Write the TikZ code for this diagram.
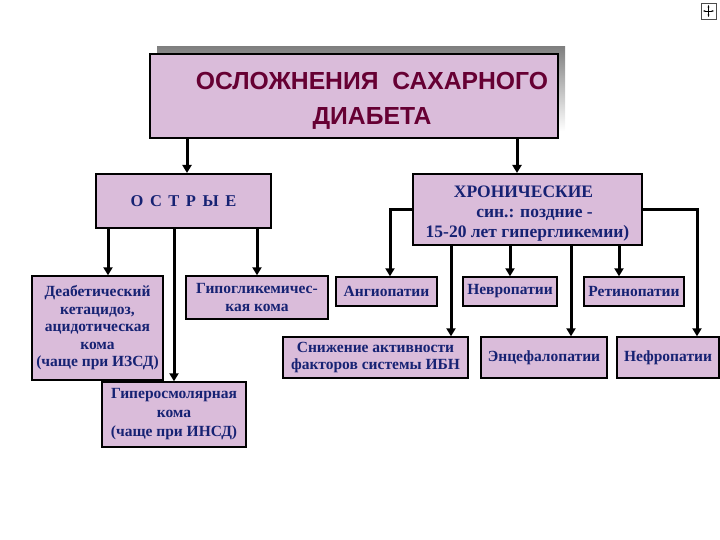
\documentclass[tikz,border=0pt]{standalone}
\usepackage{fontspec}
\setmainfont{Liberation Serif}
\newfontfamily\titlefont{Liberation Sans}
\usetikzlibrary{arrows.meta}
\definecolor{boxfill}{RGB}{218,188,218}
\definecolor{navy}{RGB}{22,34,115}
\definecolor{maroon}{RGB}{102,0,51}
\definecolor{shade}{RGB}{128,128,128}
\tikzset{
  box/.style={draw=black, line width=1.4pt, fill=boxfill, inner sep=0pt, align=center,
    text=navy, font=\fontsize{15.5}{17.5}\selectfont\bfseries},
  bigbox/.style={box, line width=2pt},
  arr/.style={line width=3pt, -{Triangle[width=9pt,length=8pt]}},
  conn/.style={line width=3pt}
}
\begin{document}
\begin{tikzpicture}[x=1pt,y=-1pt]
\useasboundingbox (0,0) rectangle (720,540);
% title shadow and box
\fill[shade] (157,47) rectangle (565,131);
\node[bigbox, minimum width=408, minimum height=84] (title) at (354,96) {};
\node[text=maroon, font=\titlefont\fontsize{24.7}{35}\selectfont\bfseries, align=center, inner sep=0pt] (titletext) at (372,101)
  {ОСЛОЖНЕНИЯ\ \ САХАРНОГО\\ДИАБЕТА};
% second level
\node[bigbox, minimum width=175, minimum height=54, font=\fontsize{16.5}{18}\selectfont\bfseries] (ostr) at (183.5,201)
  {О\hspace{6.5pt}С\hspace{6.5pt}Т\hspace{6.5pt}Р\hspace{6.5pt}Ы\hspace{6.5pt}Е};
\node[bigbox, minimum width=229, minimum height=71] (chron) at (527.5,209.5) {};
\node[text=navy, align=center, inner sep=0pt, font=\fontsize{17.5}{20}\selectfont\bfseries] (chrontext) at (527.5,213.5)
  {\hspace*{-8pt}ХРОНИЧЕСКИЕ\\\hspace*{14pt}син.: поздние -\\15-20 лет гипергликемии)};
% acute children
\node[box, minimum width=131, minimum height=104] (deab) at (97.5,328)
  {Деабетический\\кетацидоз,\\ацидотическая\\кома\\(чаще при ИЗСД)};
\node[box, minimum width=142, minimum height=43] (gipogl) at (257,297.5)
  {Гипогликемичес-\\кая кома};
\node[box, minimum width=144, minimum height=65, font=\fontsize{15.5}{19}\selectfont\bfseries] (giperosm) at (174,414.5)
  {Гиперосмолярная\\кома\\(чаще при ИНСД)};
% chronic children
\node[box, minimum width=101, minimum height=29] (angio) at (386.5,291.5) {Ангиопатии};
\node[box, minimum width=94, minimum height=29] (nevro) at (510,291.5) {Невропатии};
\node[box, minimum width=100, minimum height=29] (retino) at (634,291.5) {Ретинопатии};
\node[box, minimum width=185, minimum height=41] (snizh) at (375.5,357.5)
  {Снижение активности\\факторов системы ИБН};
\node[box, minimum width=126, minimum height=41] (encef) at (544,357.5) {Энцефалопатии};
\node[box, minimum width=102, minimum height=41] (nefro) at (668,357.5) {Нефропатии};
% connectors from title
\draw[arr] ([xshift=3.5pt]ostr.north |- title.south) -- ([xshift=3.5pt]ostr.north);
\draw[arr] ([xshift=-10.5pt]chron.north |- title.south) -- ([xshift=-10.5pt]chron.north);
% acute
\draw[arr] ([xshift=-75.5pt]ostr.south) -- ([xshift=-75.5pt]ostr.south |- deab.north);
\draw[arr] (ostr.south -| giperosm.north) -- (giperosm.north);
\draw[arr] (ostr.south -| gipogl.north) -- (gipogl.north);
% chronic
\draw[arr] (chron.west) -| ([xshift=3.5pt]angio.north);
\draw[arr] ([xshift=-76.5pt]chron.south) -- ([xshift=-76.5pt]chron.south |- snizh.north);
\draw[arr] (chron.south -| nevro.north) -- (nevro.north);
\draw[arr] ([xshift=43.5pt]chron.south) -- ([xshift=43.5pt]chron.south |- encef.north);
\draw[arr] ([xshift=91.5pt]chron.south) -- ([xshift=91.5pt]chron.south |- retino.north);
\draw[arr] (chron.east) -| ([xshift=29pt]nefro.north);
% small icon top right
\draw[line width=0.6pt, draw=black!70] (701,3) rectangle (716,19);
\draw[line width=0.8pt, {Stealth[length=2.5pt]}-{Stealth[length=2.5pt]}] (703,11) -- (714,11);
\draw[line width=0.8pt, {Stealth[length=2.5pt]}-{Stealth[length=2.5pt]}] (708.5,5) -- (708.5,17);
\end{tikzpicture}
\end{document}
